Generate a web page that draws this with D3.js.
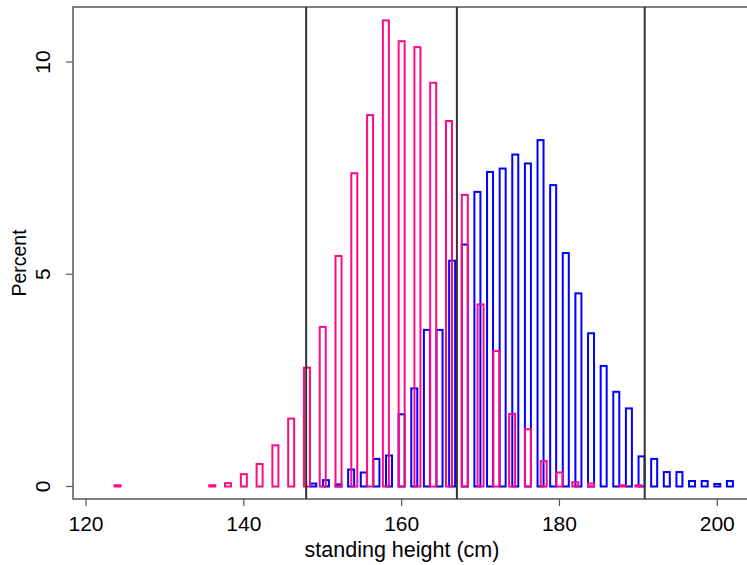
<!DOCTYPE html>
<html>
<head>
<meta charset="utf-8">
<script src="https://cdn.jsdelivr.net/npm/d3@7"></script>
<style>
  body { margin: 0; background: #fff; }
  text { font-family: "Liberation Sans", Arial, sans-serif; fill: #000; }
</style>
</head>
<body>
<svg id="chart" width="747" height="565"></svg>
<script>
// Women (pink) histogram: bin centres (cm) and percent
const womenBins = [124, 126, 128, 130, 132, 134, 136, 138, 140, 142, 144, 146, 148, 150, 152, 154, 156,
  158, 160, 162, 164, 166, 168, 170, 172, 174, 176, 178, 180, 182, 184, 186, 188, 190];
const womenPct = [0.03, 0, 0, 0, 0, 0, 0.03, 0.08, 0.29, 0.53, 0.97, 1.6, 2.8, 3.76, 5.43, 7.38, 8.75,
  10.98, 10.49, 10.35, 9.51, 8.61, 6.87, 4.29, 3.19, 1.71, 1.35, 0.6, 0.33, 0.1, 0.07, 0, 0.03, 0.03];

// Men (blue) histogram: bin centres (cm) and percent
const menBins = [148.8, 150.4, 152.0, 153.6, 155.2, 156.8, 158.4, 160.0, 161.6, 163.2, 164.8, 166.4,
  168.0, 169.6, 171.2, 172.8, 174.4, 176.0, 177.6, 179.2, 180.8, 182.4, 184.0, 185.6, 187.2, 188.8,
  190.4, 192.0, 193.6, 195.2, 196.8, 198.4, 200.0, 201.6];
const menPct = [0.07, 0.15, 0.05, 0.40, 0.33, 0.65, 0.73, 1.7, 2.31, 3.69, 3.69, 5.32,
  5.70, 6.94, 7.41, 7.49, 7.82, 7.61, 8.16, 7.10, 5.50, 4.55, 3.61, 2.84, 2.23, 1.84,
  0.71, 0.65, 0.34, 0.34, 0.13, 0.13, 0.06, 0.13];

// Reference lines (cm)
const refLines = [147.9, 167.0, 190.8];

const xTicks = [120, 140, 160, 180, 200];
const yTicks = [0, 5, 10];

const svg = d3.select("#chart");

// Plot region
const plotL = 73, plotR = 747, plotT = 7, plotB = 499;

const x = d3.scaleLinear().domain([120, 200]).range([86, 717.3]);
const y = d3.scaleLinear().domain([0, 10]).range([486.5, 62]);

// Frame (left, top, bottom)
svg.append("path")
  .attr("d", `M${plotR},${plotT}H${plotL}V${plotB}H${plotR}`)
  .attr("fill", "none")
  .attr("stroke", "#555")
  .attr("stroke-width", 1.5);

// Draw one histogram as outlined bars
function drawHist(bins, pct, color) {
  const data = bins.map((b, i) => ({ b: b, v: pct[i] })).filter(d => d.v > 0);
  svg.append("g")
    .selectAll("rect")
    .data(data)
    .join("rect")
    .attr("x", d => x(d.b) - 3)
    .attr("width", 6)
    .attr("y", d => y(d.v))
    .attr("height", d => y(0) - y(d.v))
    .attr("fill", "none")
    .attr("stroke", color)
    .attr("stroke-width", 2);
}

// men first, women drawn over them
drawHist(menBins, menPct, "#0000ff");
drawHist(womenBins, womenPct, "#ff0a84");

// Vertical reference lines
svg.append("g")
  .selectAll("line")
  .data(refLines)
  .join("line")
  .attr("x1", d => x(d)).attr("x2", d => x(d))
  .attr("y1", plotT).attr("y2", plotB)
  .attr("stroke", "#333")
  .attr("stroke-width", 2);

// X axis ticks and labels
const xg = svg.append("g");
xg.selectAll("line")
  .data(xTicks)
  .join("line")
  .attr("x1", d => x(d)).attr("x2", d => x(d))
  .attr("y1", plotB).attr("y2", plotB + 7)
  .attr("stroke", "#555")
  .attr("stroke-width", 1.2);
xg.selectAll("text")
  .data(xTicks)
  .join("text")
  .attr("x", d => x(d))
  .attr("y", 530.5)
  .attr("text-anchor", "middle")
  .style("font-size", "21px")
  .text(d => d);

// Y axis ticks and labels
const yg = svg.append("g");
yg.selectAll("line")
  .data(yTicks)
  .join("line")
  .attr("x1", plotL - 7).attr("x2", plotL)
  .attr("y1", d => y(d)).attr("y2", d => y(d))
  .attr("stroke", "#555")
  .attr("stroke-width", 1.2);
yg.selectAll("text")
  .data(yTicks)
  .join("text")
  .attr("transform", d => `translate(49.5,${y(d)}) rotate(-90)`)
  .attr("text-anchor", "middle")
  .style("font-size", "21px")
  .text(d => d);

// Axis titles
svg.append("text")
  .attr("x", 402)
  .attr("y", 557)
  .attr("text-anchor", "middle")
  .style("font-size", "21.5px")
  .text("standing height (cm)");

svg.append("text")
  .attr("transform", "translate(26,263) rotate(-90)")
  .attr("text-anchor", "middle")
  .style("font-size", "19.5px")
  .text("Percent");
</script>
</body>
</html>
